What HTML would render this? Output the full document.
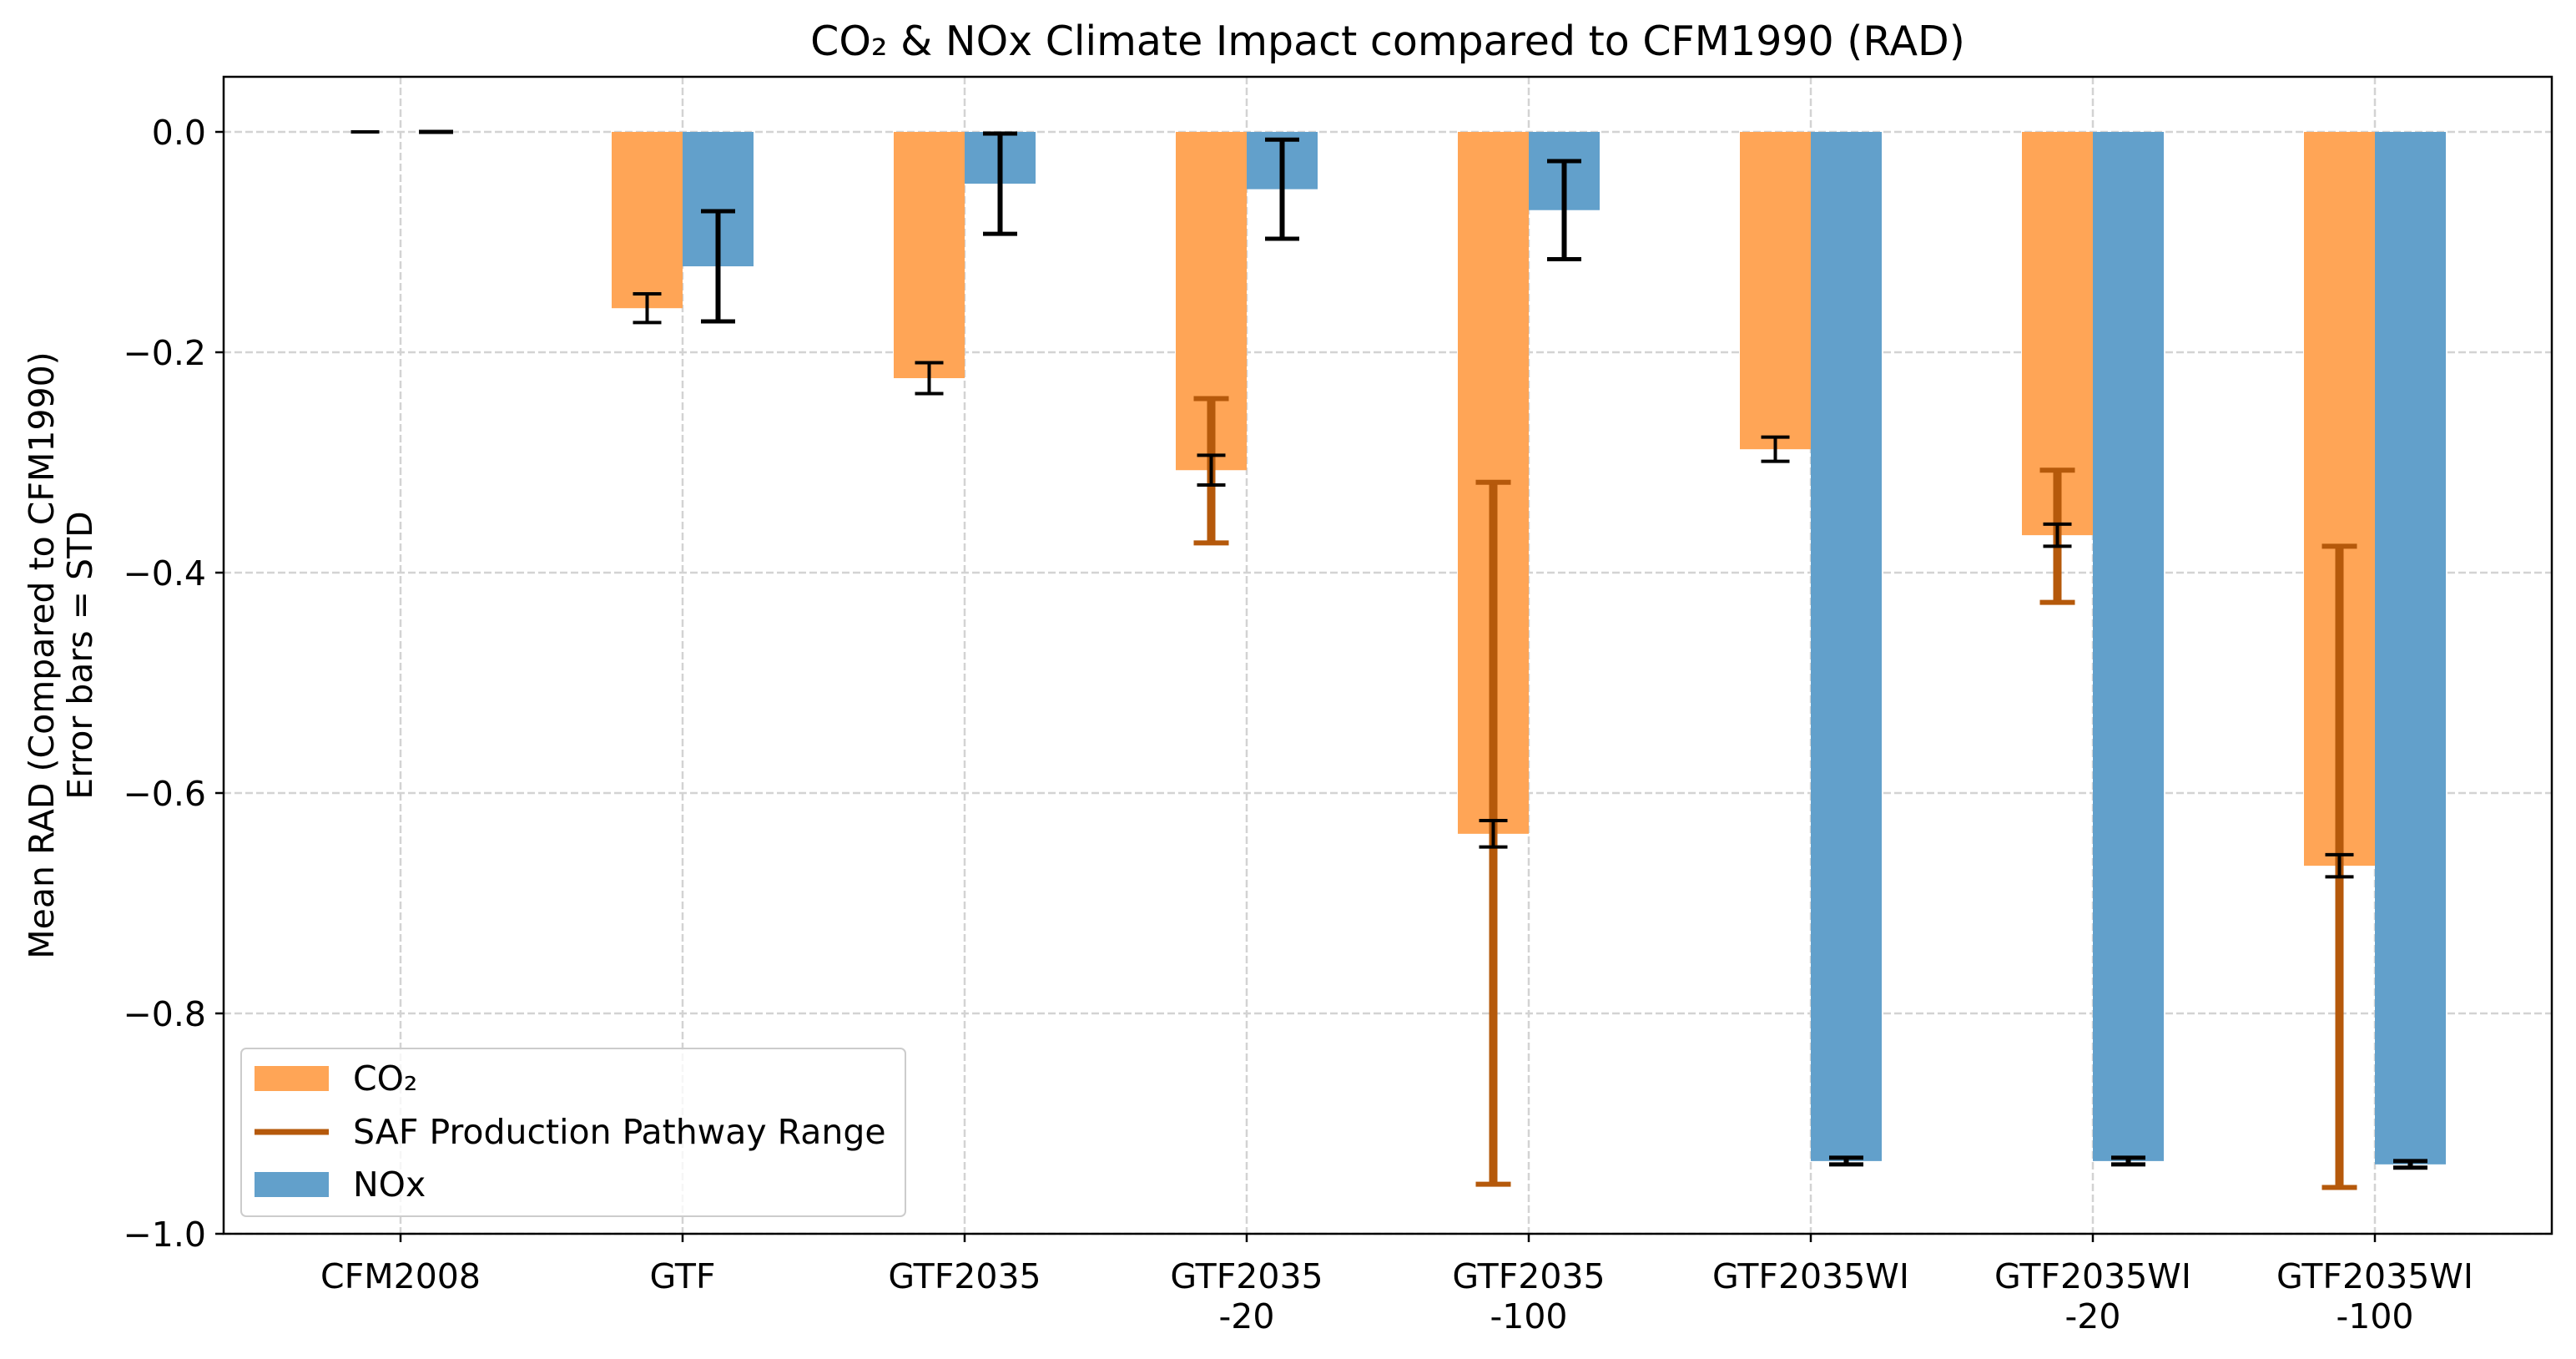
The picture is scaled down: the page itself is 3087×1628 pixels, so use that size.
<!DOCTYPE html>
<html><head><meta charset="utf-8">
<style>
html,body{margin:0;padding:0;background:#fff;}
svg{display:block;font-family:"DejaVu Sans","Liberation Sans",sans-serif;}
</style></head>
<body>
<svg id="chart" width="3087" height="1628" viewBox="0 0 3087 1628" xmlns="http://www.w3.org/2000/svg">
<rect width="3087" height="1628" fill="#fff"/>
<g id="grid"></g>
<g id="bars"></g>
<g id="errs"></g>
<rect x="268" y="92" width="2790" height="1386" fill="none" stroke="#000" stroke-width="2.5"/>
<g id="axes"></g>
<text x="1663" y="66" font-size="49" text-anchor="middle">CO₂ &amp; NOx Climate Impact compared to CFM1990 (RAD)</text>
<g transform="translate(0,785) rotate(-90)">
<text x="0" y="64" font-size="41" text-anchor="middle">Mean RAD (Compared to CFM1990)</text>
<text x="0" y="110" font-size="41" text-anchor="middle">Error bars = STD</text>
</g>
<g>
<rect x="289" y="1256" width="796" height="201" rx="6" fill="#fff" fill-opacity="0.8" stroke="#ccc" stroke-width="2"/>
<g>
<rect x="305" y="1277" width="89" height="30" fill="#ffa556"/>
<text x="423" y="1306" font-size="41">CO₂</text></g>
<g>
<line x1="305" y1="1356" x2="394" y2="1356" stroke="#b5590b" stroke-width="7"/>
<text x="423" y="1370" font-size="41">SAF Production Pathway Range</text></g>
<g>
<rect x="305" y="1404" width="89" height="30" fill="#62a0cb"/>
<text x="423" y="1433" font-size="41">NOx</text></g>
</g>
</svg>
<script>
const categories = ["CFM2008","GTF","GTF2035","GTF2035\n-20","GTF2035\n-100","GTF2035WI","GTF2035WI\n-20","GTF2035WI\n-100"];
const co2Values = [0, -0.160, -0.2235, -0.307, -0.637, -0.288, -0.366, -0.666];
const co2Std = [0, 0.013, 0.014, 0.0135, 0.012, 0.011, 0.010, 0.010];
const noxValues = [0, -0.122, -0.047, -0.052, -0.071, -0.934, -0.934, -0.937];
const noxStd = [0, 0.050, 0.0455, 0.045, 0.0445, 0.003, 0.003, 0.003];
const safLow = [null, null, null, -0.373, -0.955, null, -0.427, -0.958];
const safHigh = [null, null, null, -0.242, -0.318, null, -0.307, -0.376];
const yTicks = [0, -0.2, -0.4, -0.6, -0.8, -1.0];
const yTickLabels = ["0.0","\u22120.2","\u22120.4","\u22120.6","\u22120.8","\u22121.0"];

const NS = "http://www.w3.org/2000/svg";
const X0 = 480, DX = 338, BW = 85;
function xScale(i){ return X0 + i*DX; }
function yScale(v){ return 158 - v*1320; }
function mk(tag, attrs, parent){
  const e = document.createElementNS(NS, tag);
  for (const k in attrs) e.setAttribute(k, attrs[k]);
  parent.appendChild(e); return e;
}
const grid = document.getElementById('grid');
const bars = document.getElementById('bars');
const errs = document.getElementById('errs');
const axes = document.getElementById('axes');

yTicks.forEach((t,i)=>{
  const y = yScale(t);
  const g = mk('line',{x1:268,x2:3058,y1:y,y2:y,stroke:'#d3d3d3','stroke-width':2.5,'stroke-dasharray':'9,4'},grid);
  
  
  const tk = mk('line',{x1:258,x2:268,y1:y,y2:y,stroke:'#000','stroke-width':2.5},axes);
  
  
  const tx = mk('text',{x:247,y:y+15,'font-size':41,'text-anchor':'end'},axes);
  tx.textContent = yTickLabels[i];
  
  
});

function errbar(x, lo, hi, color, lw, cw, ct, name){
  const g = mk('g',{},errs);
  
  
  mk('line',{x1:x,x2:x,y1:yScale(hi),y2:yScale(lo),stroke:color,'stroke-width':lw},g);
  mk('line',{x1:x-cw/2,x2:x+cw/2,y1:yScale(hi),y2:yScale(hi),stroke:color,'stroke-width':ct},g);
  mk('line',{x1:x-cw/2,x2:x+cw/2,y1:yScale(lo),y2:yScale(lo),stroke:color,'stroke-width':ct},g);
}

categories.forEach((c,i)=>{
  const cx = xScale(i);
  const gl = mk('line',{x1:cx,x2:cx,y1:92,y2:1478,stroke:'#d3d3d3','stroke-width':2.5,'stroke-dasharray':'9,4'},grid);
  
  
  const tk = mk('line',{x1:cx,x2:cx,y1:1478,y2:1488,stroke:'#000','stroke-width':2.5},axes);
  
  
  const lines = c.split('\n');
  lines.forEach((ln,j)=>{
    const t = mk('text',{x:cx,y:1543+j*48,'font-size':41,'text-anchor':'middle'},axes);
    t.textContent = ln;
    
    
  });
  const y0 = yScale(0), yc = yScale(co2Values[i]);
  const b1 = mk('rect',{x:cx-BW,y:Math.min(y0,yc),width:BW,height:Math.abs(yc-y0),fill:'#ffa556'},bars);
  
  
  const yn = yScale(noxValues[i]);
  const b2 = mk('rect',{x:cx,y:Math.min(y0,yn),width:BW,height:Math.abs(yn-y0),fill:'#62a0cb'},bars);
  
  
  if (safLow[i] !== null) errbar(cx-BW/2, safLow[i], safHigh[i], '#b5590b', 10, 42, 6, 'saf-range-bar');
  errbar(cx-BW/2, co2Values[i]-co2Std[i], co2Values[i]+co2Std[i], '#000', 4, 34, 4, 'co2-error-bar');
  errbar(cx+BW/2, noxValues[i]-noxStd[i], noxValues[i]+noxStd[i], '#000', 6, 41, 5, 'nox-error-bar');
});
</script>
</body></html>
